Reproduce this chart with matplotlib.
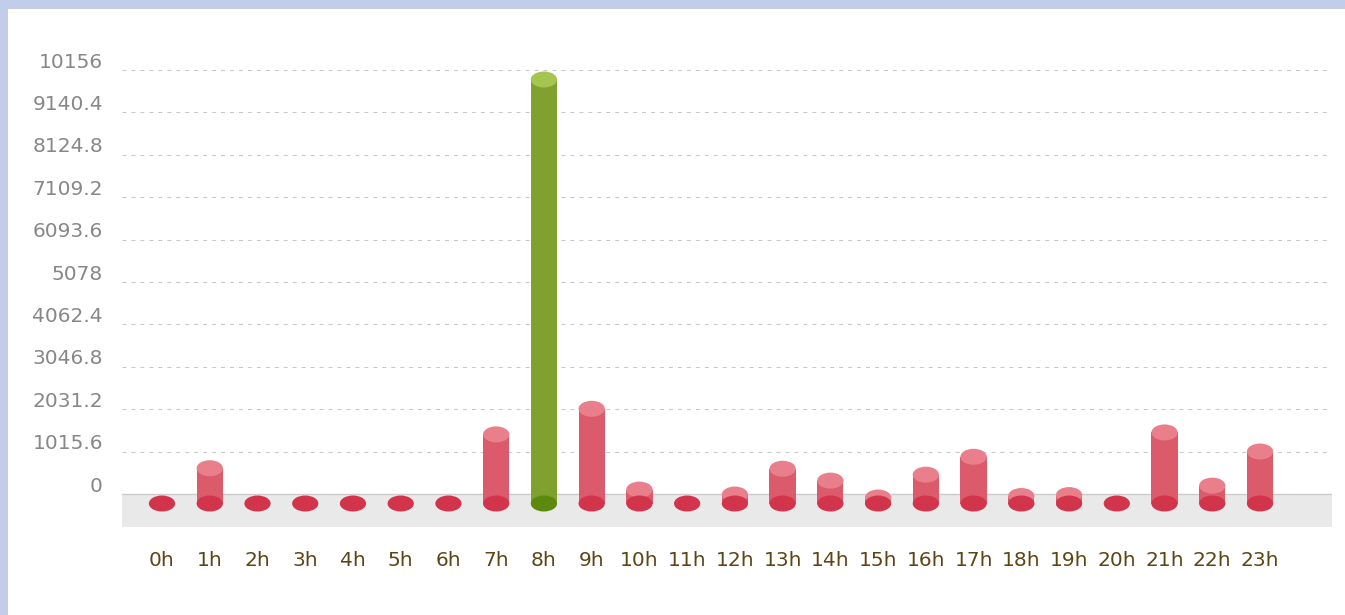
import matplotlib.pyplot as plt
from matplotlib.patches import Ellipse, Rectangle
from matplotlib.transforms import ScaledTranslation
import numpy as np

# 数据
hours = [f"{h}h" for h in range(24)]
values = [0, 845, 0, 0, 0, 0, 0, 1655, 10156, 2269, 333, 0,
          214, 833, 548, 143, 690, 1119, 179, 202, 0, 1702, 428, 1245]
highlight = 8
y_max = 10156
y_ticks = [y_max * i / 10 for i in range(11)]
y_labels = ["0", "1015.6", "2031.2", "3046.8", "4062.4", "5078",
            "6093.6", "7109.2", "8124.8", "9140.4", "10156"]

red = {"body": "#dc5b6b", "cap": "#e87f8a", "base": "#d2344b"}
green = {"body": "#7ea130", "cap": "#a4c550", "base": "#5d8a0c"}

fig = plt.figure(figsize=(13.45, 6.15), dpi=100, facecolor="#c2cceb")
# 白色面板
fig.patches.append(Rectangle((8 / 1345, 0), 1, 1 - 9 / 615, transform=fig.transFigure,
                             facecolor="white", edgecolor="none", zorder=-1))

ax = fig.add_axes((122 / 1345, 1 - 527 / 615, 1210 / 1345, 457 / 615))
ax.patch.set_visible(False)

px = y_max / (494 - 70)  # 每个像素对应的数值
ax.set_ylim(-33 * px, y_max)
ax.set_xlim(-40 / 47.74, (1332 - 162) / 47.74)

# 网格线和地板
ax.set_axisbelow(True)
ax.grid(axis="y", color="#c8c8c8", linewidth=0.75, linestyle=(0, (3.8, 4.8)))
ax.axhspan(-33 * px, 0, color="#e9e9e9", zorder=1, linewidth=0)
ax.axhline(0, color="#cccccc", linewidth=1, zorder=1.5)

# 圆柱体
w = 0.55
off = 9.5 * px
eh = 16 * px
for i, v in enumerate(values):
    c = green if i == highlight else red
    base_y = -off
    top_y = v - off
    if v > 0:
        ax.add_patch(Rectangle((i - w / 2, base_y), w, top_y - base_y, facecolor=c["body"],
                               edgecolor="none", zorder=3, clip_on=False))
        ax.add_patch(Ellipse((i, top_y), w, eh, facecolor=c["cap"], edgecolor="none",
                             zorder=4, clip_on=False))
    ax.add_patch(Ellipse((i, base_y), w, eh, facecolor=c["base"], edgecolor="none",
                         zorder=5, clip_on=False))

for s in ax.spines.values():
    s.set_visible(False)

ax.set_yticks(y_ticks, y_labels)
ax.set_xticks(range(24), hours)
ax.tick_params(axis="y", length=0, pad=13.7, labelsize=14.5, labelcolor="#878787")
ax.tick_params(axis="x", length=0, pad=17.5, labelsize=14.5, labelcolor="#5e4514")
for lab in ax.get_yticklabels():
    lab.set_transform(lab.get_transform() + ScaledTranslation(0, 10 / 100, fig.dpi_scale_trans))

plt.savefig("out.png", dpi=100, facecolor=fig.get_facecolor())
